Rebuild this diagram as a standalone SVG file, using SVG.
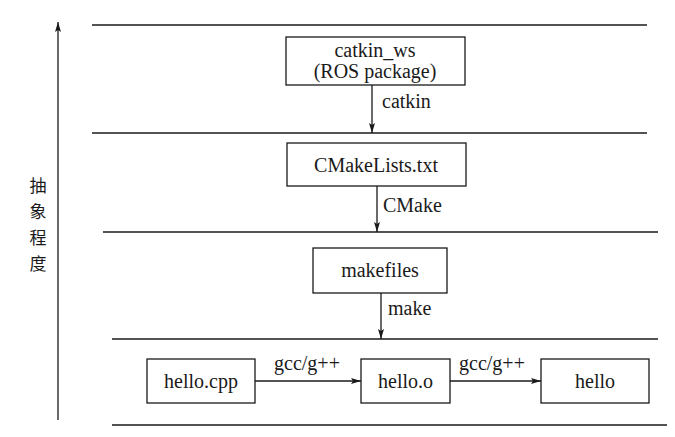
<svg xmlns="http://www.w3.org/2000/svg" width="675" height="437" viewBox="0 0 675 437">
<defs>
<marker id="ah" viewBox="0 0 10 6" refX="10" refY="3" markerWidth="10" markerHeight="6" markerUnits="userSpaceOnUse" orient="auto">
<path d="M0,0 L10,3 L0,6 L2,3 Z" fill="#1a1a1a"/>
</marker>
</defs>
<style>
.ln{stroke:#1a1a1a;stroke-width:1.3;fill:none}
.bx{fill:#fff;stroke:#1a1a1a;stroke-width:1.3}
.t{font-family:"Liberation Serif","Times New Roman",serif;font-size:20px;fill:#1a1a1a;text-anchor:middle}
.l{font-family:"Liberation Serif","Times New Roman",serif;font-size:20px;fill:#1a1a1a}
.cjk{font-family:"Noto Sans CJK SC",sans-serif;font-size:17px;fill:#1a1a1a;text-anchor:middle}
</style>
<rect width="675" height="437" fill="#fff"/>
<g id="levels">
<line class="ln" x1="92" y1="25" x2="647" y2="25"/>
<line class="ln" x1="92" y1="133" x2="647" y2="133"/>
<line class="ln" x1="103" y1="232" x2="658" y2="232"/>
<line class="ln" x1="112" y1="339" x2="658" y2="339"/>
<line class="ln" x1="112" y1="425" x2="667" y2="425"/>
</g>
<g id="axis">
<line class="ln" x1="58" y1="420" x2="58" y2="22" marker-end="url(#ah)"/>
<text class="cjk" x="38" y="192">抽</text>
<text class="cjk" x="38" y="218">象</text>
<text class="cjk" x="38" y="244">程</text>
<text class="cjk" x="38" y="270">度</text>
</g>
<g id="connectors">
<line class="ln" x1="372" y1="85" x2="372" y2="133" marker-end="url(#ah)"/>
<text class="l" x="382" y="108">catkin</text>
<line class="ln" x1="377" y1="186" x2="377" y2="232" marker-end="url(#ah)"/>
<text class="l" x="383" y="212">CMake</text>
<line class="ln" x1="381" y1="293" x2="381" y2="339" marker-end="url(#ah)"/>
<text class="l" x="388" y="315">make</text>
<line class="ln" x1="255" y1="381" x2="361" y2="381" marker-end="url(#ah)"/>
<text class="t" x="307" y="370">gcc/g++</text>
<line class="ln" x1="450" y1="381" x2="541" y2="381" marker-end="url(#ah)"/>
<text class="t" x="492" y="370">gcc/g++</text>
</g>
<g id="catkin_ws">
<rect class="bx" x="286" y="37" width="179" height="48"/>
<text class="t" x="375" y="57">catkin_ws</text>
<text class="t" x="375" y="78">(ROS package)</text>
</g>
<g id="cmakelists">
<rect class="bx" x="287" y="143" width="179" height="43"/>
<text class="t" x="376" y="172">CMakeLists.txt</text>
</g>
<g id="makefiles">
<rect class="bx" x="313" y="248" width="134" height="45"/>
<text class="t" x="380" y="277">makefiles</text>
</g>
<g id="hello_cpp">
<rect class="bx" x="147" y="359" width="108" height="44"/>
<text class="t" x="201" y="388">hello.cpp</text>
</g>
<g id="hello_o">
<rect class="bx" x="361" y="359" width="89" height="44"/>
<text class="t" x="405.5" y="388">hello.o</text>
</g>
<g id="hello">
<rect class="bx" x="541" y="359" width="108" height="44"/>
<text class="t" x="595" y="388">hello</text>
</g>
</svg>
